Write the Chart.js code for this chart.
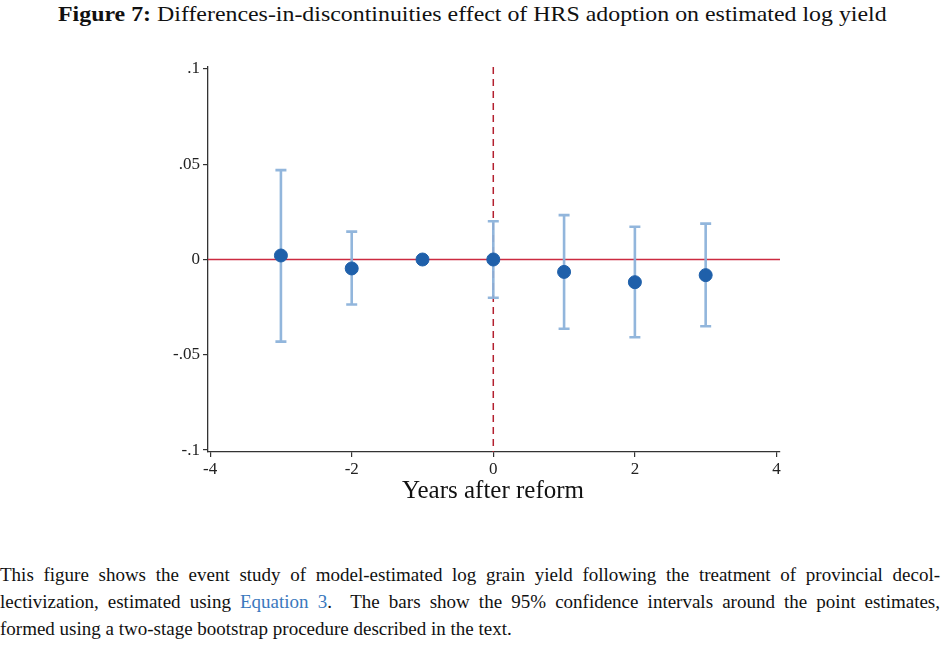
<!DOCTYPE html>
<html>
<head>
<meta charset="utf-8">
<script src="https://cdn.jsdelivr.net/npm/chart.js@4.4.1/dist/chart.umd.min.js"></script>
<style>
  body { margin: 0; background: #fff; width: 944px; height: 648px; overflow: hidden; position: relative; font-family: "Liberation Serif", serif; color: #111; }
  #title { position: absolute; top: 1px; left: 0; width: 944px; text-align: center; font-size: 22px; transform: scaleX(1.085); transform-origin: 468px 0; white-space: nowrap; }
  #chartBox { position: absolute; top: 0; left: 0; width: 944px; height: 520px; }
  #xTitle { position: absolute; top: 476px; left: 0; width: 986px; text-align: center; font-size: 25px; }
  #caption { position: absolute; top: 561px; left: 0; width: 940px; font-size: 19px; line-height: 27px; }
  #caption div { text-align: justify; text-align-last: justify; white-space: nowrap; }
  #caption div.last { text-align-last: left; }
  .ref { color: #3a78bd; }
</style>
</head>
<body>
<div id="title"><b>Figure 7:</b> Differences-in-discontinuities effect of HRS adoption on estimated log yield</div>
<div id="chartBox"><canvas id="eventChart" width="944" height="520"></canvas></div>
<div id="xTitle">Years after reform</div>
<div id="caption">
  <div>This figure shows the event study of model-estimated log grain yield following the treatment of provincial decol-</div>
  <div>lectivization, estimated using <span class="ref">Equation 3</span>. &nbsp;The bars show the 95% confidence intervals around the point estimates,</div>
  <div class="last">formed using a two-stage bootstrap procedure described in the text.</div>
</div>
<script>
// Event-study estimates
const years = [-3, -2, -1, 0, 1, 2, 3]
const estimate = [0.0021, -0.0047, 0, 0, -0.0065, -0.0119, -0.0082]
const ciLower = [-0.0431, -0.0236, null, -0.0201, -0.0363, -0.0408, -0.0350]
const ciUpper = [0.0469, 0.0146, null, 0.0201, 0.0233, 0.0172, 0.0188]

const xTicks = [-4, -2, 0, 2, 4]
const yTicks = [-0.1, -0.05, 0, 0.05, 0.1]
const yTickLabels = ['-.1', '-.05', '0', '.05', '.1']

// Reference lines, error bars drawn with the chart scales
const refLinesAndBars = {
    id: 'refLinesAndBars',
    beforeDatasetsDraw(chart) {
        const ctx = chart.ctx
        const xs = chart.scales.x
        const ys = chart.scales.y
        const area = chart.chartArea
        ctx.save()

        // zero line
        const y0 = ys.getPixelForValue(0)
        ctx.strokeStyle = '#cc2b40'
        ctx.lineWidth = 1.5
        ctx.beginPath()
        ctx.moveTo(area.left, y0)
        ctx.lineTo(area.right, y0)
        ctx.stroke()

        // reform year
        const x0 = xs.getPixelForValue(0)
        ctx.strokeStyle = '#b3202f'
        ctx.setLineDash([7, 5])
        ctx.beginPath()
        ctx.moveTo(x0, area.top)
        ctx.lineTo(x0, area.bottom)
        ctx.stroke()
        ctx.setLineDash([])

        // confidence intervals
        ctx.strokeStyle = 'rgba(140,178,218,0.95)'
        ctx.lineWidth = 2.6
        years.forEach((yr, i) => {
            if (ciLower[i] === null) return
            const px = xs.getPixelForValue(yr)
            const lo = ys.getPixelForValue(ciLower[i])
            const hi = ys.getPixelForValue(ciUpper[i])
            ctx.beginPath()
            ctx.moveTo(px, lo)
            ctx.lineTo(px, hi)
            ctx.moveTo(px - 5.5, lo)
            ctx.lineTo(px + 5.5, lo)
            ctx.moveTo(px - 5.5, hi)
            ctx.lineTo(px + 5.5, hi)
            ctx.stroke()
        })
        ctx.restore()
    }
}

const tickFont = { family: 'Liberation Serif', size: 17 }

new Chart(document.getElementById('eventChart'), {
    type: 'scatter',
    data: {
        datasets: [{
            label: 'Estimate',
            data: years.map((yr, i) => ({ x: yr, y: estimate[i] })),
            backgroundColor: '#1f60aa',
            borderColor: '#1f60aa',
            pointRadius: 6.5,
            pointHoverRadius: 6.5
        }]
    },
    options: {
        responsive: false,
        animation: false,
        layout: { padding: { left: 148, right: 164, top: 67, bottom: 18 } },
        plugins: { legend: { display: false }, tooltip: { enabled: false } },
        scales: {
            x: {
                type: 'linear',
                min: -4.03,
                max: 4.05,
                afterBuildTicks: scale => { scale.ticks = xTicks.map(v => ({ value: v })) },
                afterFit: scale => { scale.height = 50 },
                ticks: { color: '#222', font: tickFont, padding: 2, maxRotation: 0, callback: v => String(v) },
                grid: { drawOnChartArea: false, drawTicks: true, tickLength: 5, color: '#333', lineWidth: 1.2 },
                border: { display: true, color: '#333', width: 1.3 }
            },
            y: {
                min: -0.101,
                max: 0.101,
                afterBuildTicks: scale => { scale.ticks = yTicks.map(v => ({ value: v })) },
                afterFit: scale => { scale.width = 60 },
                ticks: {
                    color: '#222', font: tickFont, padding: 3,
                    callback: v => yTickLabels[yTicks.findIndex(t => Math.abs(t - v) < 1e-9)]
                },
                grid: { drawOnChartArea: false, drawTicks: true, tickLength: 5, color: '#333', lineWidth: 1.2 },
                border: { display: true, color: '#333', width: 1.3 }
            }
        }
    },
    plugins: [refLinesAndBars]
})
</script>
</body>
</html>
